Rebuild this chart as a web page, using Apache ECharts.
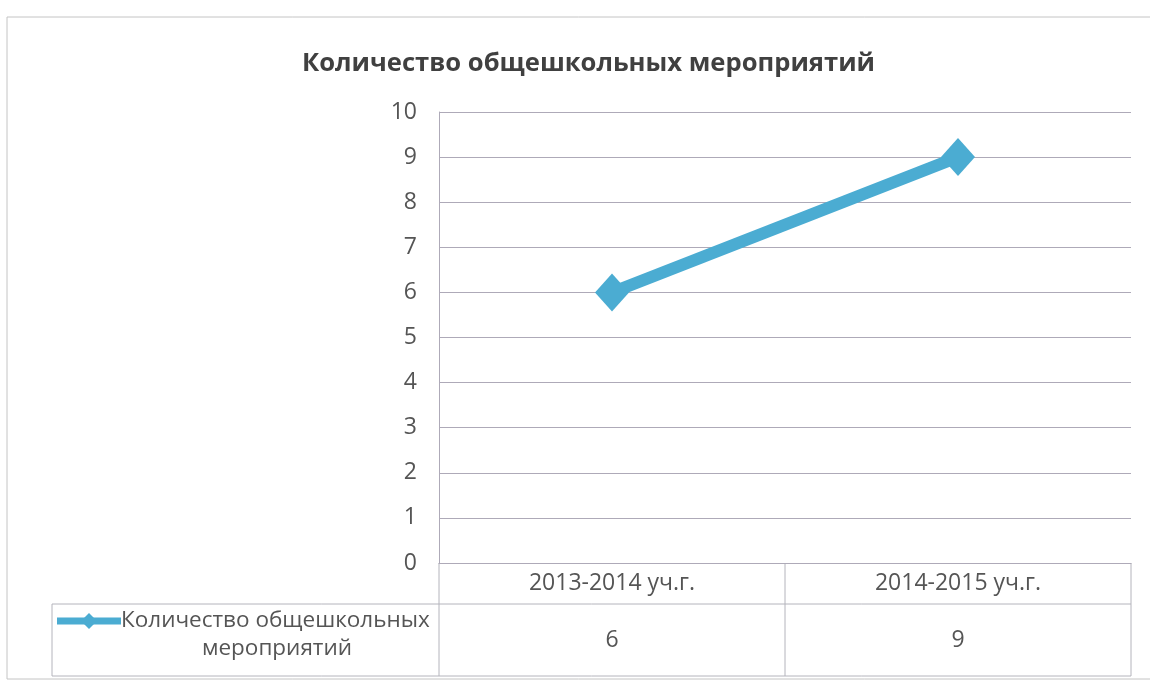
<!DOCTYPE html>
<html><head><meta charset="utf-8">
<script src="https://cdn.jsdelivr.net/npm/echarts@6/dist/echarts.min.js"></script>
<style>html,body{margin:0;padding:0;background:#fff}#c{width:1150px;height:686px}</style>
</head><body><div id="c"></div>
<script>
const chartTitle = 'Количество общешкольных мероприятий';
const categories = ['2013-2014 уч.г.', '2014-2015 уч.г.'];
const seriesName = 'Количество общешкольных мероприятий';
const values = [6, 9];
const yMin = 0, yMax = 10, yStep = 1;

const FONT = '"Open Sans", "Noto Sans", sans-serif';
const TXT = '#555555';
const GRID = '#aeaab8';
const TBL = '#b4b4bc';
const LINE = '#4bacd2';

const chart = echarts.init(document.getElementById('c'), null, {renderer: 'canvas'});
const ROW1 = 41, ROW2 = 72;

chart.setOption({
  backgroundColor: '#ffffff',
  animation: false,
  title: {
    text: chartTitle, left: 297, top: 46,
    textStyle: {fontFamily: FONT, fontSize: 25.6, fontWeight: 'bold', color: '#404040'}
  },
  grid: {left: 439, right: 19, top: 112, bottom: 686 - 563},
  xAxis: {
    type: 'category', data: categories, boundaryGap: true,
    axisLine: {show: true, lineStyle: {color: GRID, width: 1}},
    axisTick: {show: false},
    axisLabel: {
      margin: 0, interval: 0,
      formatter: (v, i) => '{c|' + v + '}\n{v|' + values[i] + '}',
      rich: {
        c: {fontFamily: FONT, fontSize: 23, color: TXT, lineHeight: ROW1, align: 'center'},
        v: {fontFamily: FONT, fontSize: 23, color: TXT, lineHeight: ROW2, align: 'center'}
      }
    },
    splitLine: {show: false}
  },
  yAxis: {
    type: 'value', min: yMin, max: yMax, interval: yStep,
    axisLine: {show: true, lineStyle: {color: GRID, width: 1}},
    axisTick: {show: false},
    axisLabel: {margin: 22, fontFamily: FONT, fontSize: 23, color: TXT},
    splitLine: {show: true, lineStyle: {color: GRID, width: 1}}
  },
  series: [{
    name: seriesName, type: 'line', data: values,
    lineStyle: {color: LINE, width: 12},
    itemStyle: {color: LINE},
    symbol: 'diamond', symbolSize: [34, 38],
    z: 3
  }]
});

function drawTable() {
  const c0 = chart.convertToPixel({xAxisIndex: 0}, categories[0]);
  const c1 = chart.convertToPixel({xAxisIndex: 0}, categories[categories.length - 1]);
  const hw = (c1 - c0) / (categories.length - 1) / 2;
  const left = c0 - hw, right = c1 + hw;
  const y0 = chart.convertToPixel({yAxisIndex: 0}, yMin);
  const y1 = y0 + ROW1, y2 = y1 + ROW2;
  const legLeft = 52;
  const els = [];
  const ln = (x1, ya, x2, yb, col, w) => els.push({type: 'line', silent: true,
    shape: {x1: x1, y1: ya, x2: x2, y2: yb}, style: {stroke: col || TBL, lineWidth: w || 1}});
  // outer chart border
  ln(7, 17, 1150, 17, '#c4c4c4');
  ln(7, 17, 7, 679, '#c4c4c4');
  ln(7, 679, 1150, 679, '#c4c4c4');
  // table grid
  for (let i = 0; i <= categories.length; i++) {
    const x = left + i * 2 * hw;
    ln(x, y0, x, y2);
  }
  ln(legLeft, y1, right, y1);
  ln(legLeft, y2, right, y2);
  ln(legLeft, y1, legLeft, y2);
  // legend key
  const parts = seriesName.split(' ');
  const first = parts.slice(0, 2).join(' ');
  const second = parts.slice(2).join(' ');
  const ky = y1 + 17;
  ln(57, ky, 121, ky, LINE, 7);
  els.push({type: 'polygon', silent: true,
    shape: {points: [[89, ky - 8], [97, ky], [89, ky + 8], [81, ky]]},
    style: {fill: LINE}});
  els.push({type: 'text', silent: true, x: 121, y: ky,
    style: {text: first, fontFamily: FONT, fontSize: 22.5, fill: TXT, verticalAlign: 'middle'}});
  els.push({type: 'text', silent: true, x: 277, y: ky + 28,
    style: {text: second, fontFamily: FONT, fontSize: 22.5, fill: TXT, align: 'center', verticalAlign: 'middle'}});
  chart.setOption({graphic: {elements: els}});
}
drawTable();
</script></body></html>
